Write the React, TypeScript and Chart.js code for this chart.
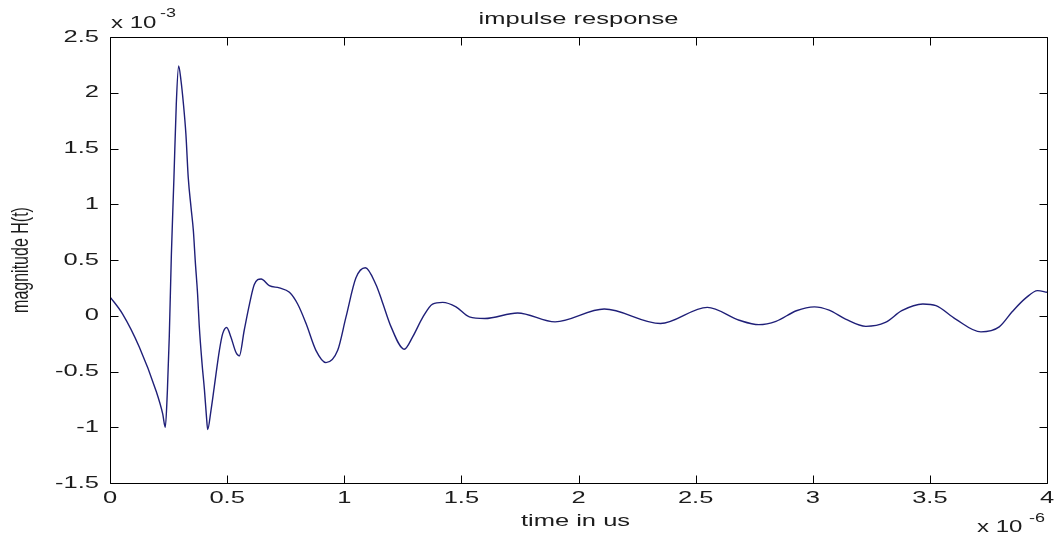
import React, { useEffect, useRef } from 'react';
import { Chart, registerables } from 'chart.js';

Chart.register(...registerables);

// time axis in units of 1e-6 s
const timeUs: number[] = [
  0, 0.054, 0.125, 0.196, 0.225, 0.236, 0.245, 0.253, 0.262, 0.273, 0.283, 0.293,
  0.303, 0.313, 0.324, 0.334, 0.346, 0.356, 0.364, 0.374, 0.381, 0.393, 0.403, 0.412, 0.417,
  0.431, 0.445, 0.467, 0.481, 0.498, 0.516, 0.538, 0.552, 0.573, 0.595, 0.616, 0.645,
  0.68, 0.723, 0.766, 0.801, 0.837, 0.879, 0.922, 0.972, 1.007, 1.05, 1.09, 1.135,
  1.16, 1.2, 1.256, 1.292, 1.335, 1.377, 1.42, 1.477, 1.534, 1.6, 1.74,
  1.9, 2.11, 2.35, 2.55, 2.686, 2.77, 2.843, 2.93,
  3.007, 3.07, 3.14, 3.227, 3.31, 3.38, 3.47, 3.526, 3.61, 3.718, 3.796, 3.853, 3.91,
  3.96, 4.0,
];

// magnitude in units of 1e-3
const magnitudeE3: number[] = [
  0.17, 0.015, -0.28, -0.67, -0.88, -1.0, -0.67, -0.19, 0.55, 1.24, 1.9, 2.24,
  2.11, 1.91, 1.63, 1.24, 0.97, 0.76, 0.49, 0.19, -0.09, -0.43, -0.66, -0.91, -1.02,
  -0.85, -0.64, -0.31, -0.16, -0.105, -0.19, -0.33, -0.36, -0.13, 0.1, 0.28, 0.33,
  0.27, 0.25, 0.21, 0.105, -0.07, -0.31, -0.42, -0.31, -0.015, 0.34, 0.43, 0.28,
  0.14, -0.1, -0.3, -0.19, -0.015, 0.105, 0.12, 0.08, -0.01, -0.025, 0.025,
  -0.055, 0.06, -0.07, 0.075, -0.04, -0.08, -0.05, 0.045,
  0.08, 0.05, -0.03, -0.095, -0.06, 0.045, 0.105, 0.09, -0.03, -0.145, -0.1, 0.04, 0.16,
  0.225, 0.21,
];

const xTickValues: number[] = [0, 0.5, 1, 1.5, 2, 2.5, 3, 3.5, 4];
const xTickLabels: string[] = ['0', '0.5', '1', '1.5', '2', '2.5', '3', '3.5', '4'];
const yTickValues: number[] = [-1.5, -1, -0.5, 0, 0.5, 1, 1.5, 2, 2.5];
const yTickLabels: string[] = ['-1.5', '-1', '-0.5', '0', '0.5', '1', '1.5', '2', '2.5'];

const TITLE = 'impulse response';
const X_LABEL = 'time in us';
const Y_LABEL = 'magnitude H(t)';
const X_EXP = '-6';
const Y_EXP = '-3';

const FONT_FAMILY = '"Liberation Sans", Arial, Helvetica, sans-serif';
const SX = 1.5; // horizontal stretch of the reference's text
const TEXT_COLOR = '#1c1c1c';

function drawText(
  ctx: CanvasRenderingContext2D,
  text: string,
  x: number,
  y: number,
  size: number,
  align: CanvasTextAlign,
  baseline: CanvasTextBaseline = 'middle',
) {
  ctx.save();
  ctx.translate(x, y);
  ctx.scale(SX, 1);
  ctx.font = `${size}px ${FONT_FAMILY}`;
  ctx.fillStyle = TEXT_COLOR;
  ctx.textAlign = align;
  ctx.textBaseline = baseline;
  ctx.fillText(text, 0, 0);
  ctx.restore();
}

const matlabAxes = {
  id: 'matlabAxes',
  afterDraw(chart: any) {
    const { ctx, chartArea } = chart;
    const xs = chart.scales.x;
    const ys = chart.scales.y;
    const l = Math.round(chartArea.left) + 0.5;
    const r = Math.round(chartArea.right) + 0.5;
    const t = Math.round(chartArea.top) + 0.5;
    const b = Math.round(chartArea.bottom) + 0.5;
    const tick = 8;

    ctx.save();
    ctx.strokeStyle = '#000';
    ctx.lineWidth = 1;
    ctx.beginPath();
    ctx.rect(l, t, r - l, b - t);
    ctx.stroke();

    ctx.beginPath();
    xTickValues.forEach((v) => {
      const px = Math.round(xs.getPixelForValue(v)) + 0.5;
      ctx.moveTo(px, b);
      ctx.lineTo(px, b - tick);
      ctx.moveTo(px, t);
      ctx.lineTo(px, t + tick);
    });
    yTickValues.forEach((v) => {
      const py = Math.round(ys.getPixelForValue(v)) + 0.5;
      ctx.moveTo(l, py);
      ctx.lineTo(l + tick, py);
      ctx.moveTo(r, py);
      ctx.lineTo(r - tick, py);
    });
    ctx.stroke();
    ctx.restore();

    // tick labels
    xTickValues.forEach((v, i) => {
      drawText(ctx, xTickLabels[i], xs.getPixelForValue(v), 498, 17, 'center');
    });
    yTickValues.forEach((v, i) => {
      drawText(ctx, yTickLabels[i], 99, ys.getPixelForValue(v), 17, 'right');
    });

    // exponents
    drawText(ctx, 'x 10', 111, 24, 16, 'left');
    drawText(ctx, Y_EXP, 160, 14, 12, 'left');
    drawText(ctx, 'x 10', 977, 528, 16, 'left');
    drawText(ctx, X_EXP, 1029, 519, 12, 'left');

    // title and axis labels
    drawText(ctx, TITLE, (chartArea.left + chartArea.right) / 2, 19, 17, 'center');
    drawText(ctx, X_LABEL, (chartArea.left + chartArea.right) / 2 - 3, 521, 17, 'center');

    ctx.save();
    ctx.translate(21, (chartArea.top + chartArea.bottom) / 2);
    ctx.scale(SX, 1);
    ctx.rotate(-Math.PI / 2);
    ctx.font = `16px ${FONT_FAMILY}`;
    ctx.fillStyle = TEXT_COLOR;
    ctx.textAlign = 'center';
    ctx.textBaseline = 'middle';
    ctx.fillText(Y_LABEL, 0, 0);
    ctx.restore();
  },
};

const whiteBg = {
  id: 'whiteBg',
  beforeDraw(chart: any) {
    const { ctx, width, height } = chart;
    ctx.save();
    ctx.fillStyle = '#ffffff';
    ctx.fillRect(0, 0, width, height);
    ctx.restore();
  },
};

export default function App() {
  const canvasRef = useRef<HTMLCanvasElement | null>(null);

  useEffect(() => {
    if (!canvasRef.current) return;
    const data = timeUs.map((t, i) => ({ x: t, y: magnitudeE3[i] }));
    const chart = new Chart(canvasRef.current, {
      type: 'line',
      data: {
        datasets: [
          {
            label: 'H(t)',
            data,
            borderColor: '#1f1f78',
            borderWidth: 1.4,
            pointRadius: 0,
            fill: false,
            cubicInterpolationMode: 'monotone',
          },
        ],
      },
      options: {
        animation: false,
        responsive: true,
        maintainAspectRatio: false,
        layout: { padding: { left: 110, right: 10, top: 37, bottom: 61 } },
        plugins: {
          legend: { display: false },
          tooltip: { enabled: false },
          title: { display: false },
        },
        scales: {
          x: { type: 'linear', min: 0, max: 4, display: false },
          y: { type: 'linear', min: -1.5, max: 2.5, display: false },
        },
      },
      plugins: [whiteBg, matlabAxes],
    });
    return () => chart.destroy();
  }, []);

  return (
    <div
      style={{
        position: 'fixed',
        left: 0,
        top: 0,
        width: 1057,
        height: 544,
        background: '#fff',
      }}
    >
      <canvas ref={canvasRef} />
    </div>
  );
}
